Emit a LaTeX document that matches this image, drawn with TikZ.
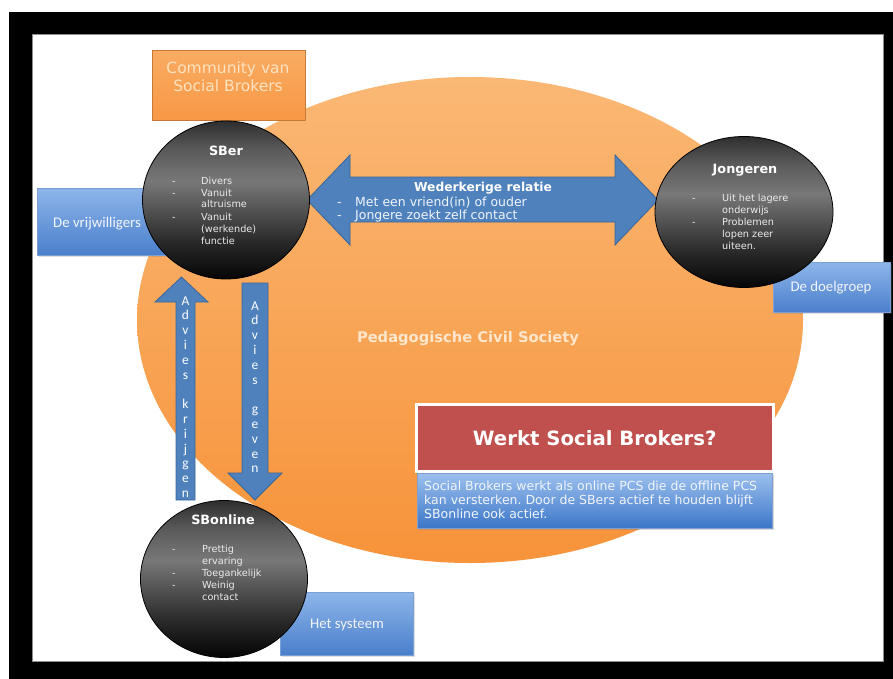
\documentclass[tikz,border=0pt]{standalone}
\usepackage{fontspec}
\setmainfont{DejaVu Sans}
\newfontfamily\calib{Carlito}
\usetikzlibrary{shapes.geometric,shadows}
\frenchspacing

\definecolor{orangeTop}{HTML}{FAB875}
\definecolor{orangeBot}{HTML}{F7933A}
\definecolor{boxOrangeTop}{HTML}{F9AC63}
\definecolor{boxOrangeBot}{HTML}{F79845}
\definecolor{commText}{HTML}{FDE2C0}
\definecolor{pcsText}{HTML}{FDE6CC}
\definecolor{arrowBlue}{HTML}{4F81BD}
\definecolor{arrowEdge}{HTML}{3B6597}
\definecolor{labelTop}{HTML}{8DB5EA}
\definecolor{labelBot}{HTML}{4A7FCB}
\definecolor{labelEdge}{HTML}{7B9ED3}
\definecolor{infoTop}{HTML}{9CC0EE}
\definecolor{infoBot}{HTML}{3C76C8}
\definecolor{brickRed}{HTML}{C0504D}
\definecolor{softWhite}{HTML}{F2F5FA}
\definecolor{ballTop}{HTML}{2E2E2E}
\definecolor{ballHi}{HTML}{5A5A5A}
\definecolor{ballMid}{HTML}{787878}
\definecolor{ballLow}{HTML}{2A2A2A}
\definecolor{ballBot}{HTML}{050505}

% dark sphere-like fill for the three actor discs
\pgfdeclareverticalshading{ballshade}{100bp}{%
  color(0bp)=(ballBot); color(25bp)=(ballBot); color(37bp)=(ballLow);
  color(56bp)=(ballMid); color(66bp)=(ballHi); color(75bp)=(ballTop);
  color(100bp)=(ballTop)}

\tikzset{
  ball/.style={ellipse, draw=black, line width=0.8pt, shading=ballshade,
    inner sep=0pt},
  balltitle/.style={text=white, font=\fontsize{12.8}{14}\selectfont\bfseries,
    anchor=base},
  balltext/.style={text=white!92!black, font=\fontsize{9.7}{12}\selectfont,
    anchor=base west, inner sep=0pt},
  bluelabel/.style={rectangle, draw=labelEdge, line width=0.6pt,
    top color=labelTop, bottom color=labelBot, inner sep=0pt,
    drop shadow={opacity=0.25, shadow xshift=1.5pt, shadow yshift=-1.5pt}},
  labeltext/.style={text=softWhite, font=\calib\fontsize{14.8}{16}\selectfont,
    inner sep=0pt},
  blockarrow/.style={fill=arrowBlue, draw=arrowEdge, line width=0.8pt,
    line join=miter},
  arrowletters/.style={text=white, font=\calib\fontsize{13.5}{14.8}\selectfont,
    anchor=base, inner sep=0pt},
}

\begin{document}
\begin{tikzpicture}[x=1pt,y=-1pt]
\useasboundingbox (0,0) rectangle (893,679);
\fill[white] (0,0) rectangle (893,679);

% slide frame
\fill[black] (9,12) rectangle (893,679);
\filldraw[fill=white, draw=black!45, line width=0.8pt] (32,34) rectangle (883,661);

% civil society field
\shade[top color=orangeTop, bottom color=orangeBot]
  (470,320) ellipse [x radius=333, y radius=243];
\node[text=pcsText, font=\fontsize{14.7}{16}\selectfont\bfseries, anchor=base]
  (pcs) at (468,342) {Pedagogische Civil Society};

% community box
\node[rectangle, draw=boxOrangeBot!80!black, line width=0.5pt,
  top color=boxOrangeTop, bottom color=boxOrangeBot,
  minimum width=153, minimum height=70, inner sep=0pt, anchor=north west]
  (comm) at (152,50) {};
\node[text=commText, font=\fontsize{15.5}{18}\selectfont, align=center,
  anchor=base] (commtxt) at (228,92) {Community van\\Social Brokers};

% role labels
\node[bluelabel, minimum width=130, minimum height=67, anchor=north west]
  (vrij) at (37,188) {};
\node[labeltext, anchor=base west] (vrijtxt) at (53,227) {De vrijwilligers};
\node[bluelabel, minimum width=117, minimum height=50, anchor=north west]
  (doel) at (773,262) {};
\node[labeltext] (doeltxt) at (831,288) {De doelgroep};
\node[bluelabel, minimum width=133, minimum height=63, anchor=north west]
  (sys) at (280,592) {};
\node[labeltext] (systxt) at (347,625) {Het systeem};

% reciprocal relation arrow
\coordinate (relL) at (307,200);
\coordinate (relR) at (658,200);
\draw[blockarrow] (relL) -- (350,155) -- (350,177) -- (615,177) -- (615,155)
  -- (relR) -- (615,245) -- (615,222) -- (350,222) -- (350,245) -- cycle;
\node[text=white, font=\fontsize{12.3}{14}\selectfont\bfseries, anchor=base]
  (reltitle) at (483,191) {Wederkerige relatie};
\node[text=white!92!arrowBlue, font=\fontsize{12.5}{13.5}\selectfont,
  anchor=base west, inner sep=0pt] (reltext) at (337,206)
  {\begin{tabular}[t]{@{}p{18pt}@{}l@{}}-&Met een vriend(in) of ouder\\
   -&Jongere zoekt zelf contact\end{tabular}};

% advice arrows
\draw[blockarrow] (181.5,277) -- (208,302) -- (195,302) -- (195,500)
  -- (176,500) -- (176,302) -- (155,302) -- cycle;
\node[arrowletters] (krijgen) at (185.5,305)
  {\begin{tabular}[t]{@{}c@{}}A\\d\\v\\i\\e\\s\\ \\k\\r\\i\\j\\g\\e\\n\end{tabular}};
\draw[blockarrow] (242,283) -- (268,283) -- (268,473) -- (282,473)
  -- (255,500) -- (228,473) -- (242,473) -- cycle;
\node[arrowletters] (geven) at (255,310)
  {\begin{tabular}[t]{@{}c@{}}A\\d\\v\\i\\e\\s\\ \\g\\e\\v\\e\\n\end{tabular}};

% actor discs
\node[ball, minimum width=167, minimum height=158] (sber) at (226,200) {};
\node[balltitle] at (226,156) {SBer};
\node[balltext] at (172,184)
  {\begin{tabular}[t]{@{}p{29pt}@{}l@{}}-&Divers\\-&Vanuit\\&altruisme\\
   -&Vanuit\\&(werkende)\\&functie\end{tabular}};

\node[ball, minimum width=178, minimum height=151] (jong) at (744,212) {};
\node[balltitle] at (745,174) {Jongeren};
\node[balltext] at (692,201)
  {\begin{tabular}[t]{@{}p{30pt}@{}l@{}}-&Uit het lagere\\&onderwijs\\
   -&Problemen\\&lopen zeer\\&uiteen.\end{tabular}};

\node[ball, minimum width=167, minimum height=157] (sbon) at (224,579) {};
\node[balltitle] at (223,524) {SBonline};
\node[balltext] at (172,552)
  {\begin{tabular}[t]{@{}p{30pt}@{}l@{}}-&Prettig\\&ervaring\\-&Toegankelijk\\
   -&Weinig\\&contact\end{tabular}};

% question panel
\node[rectangle, fill=brickRed, draw=white, line width=2.5pt,
  minimum width=357, minimum height=67, inner sep=0pt, anchor=north west,
  drop shadow={opacity=0.25, shadow xshift=1.5pt, shadow yshift=-1.5pt}]
  (werkt) at (415,403) {};
\node[text=white, font=\fontsize{19.7}{22}\selectfont\bfseries] at (werkt)
  {Werkt Social Brokers?};
\node[rectangle, top color=infoTop, bottom color=infoBot, draw=labelEdge,
  line width=0.5pt, minimum width=355, minimum height=55, inner sep=0pt,
  anchor=north west,
  drop shadow={opacity=0.3, shadow xshift=2pt, shadow yshift=-2pt}]
  (info) at (417,473) {};
\node[text=softWhite, font=\fontsize{12.5}{14}\selectfont, align=left,
  anchor=base west, inner sep=0pt] (infotxt) at (424,490)
  {\begin{tabular}[t]{@{}l@{}}Social Brokers werkt als online PCS die de offline PCS\\
   kan versterken. Door de SBers actief te houden blijft\\
   SBonline ook actief.\end{tabular}};
\end{tikzpicture}
\end{document}
